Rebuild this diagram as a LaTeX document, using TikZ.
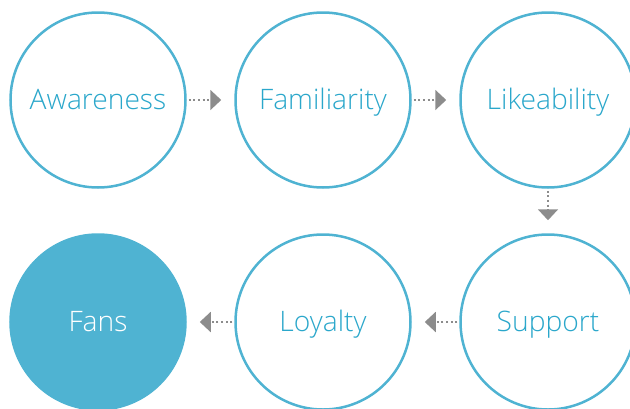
\documentclass[tikz,border=0pt]{standalone}
\usepackage{fontspec}
\IfFontExistsTF{Open Sans Light}{\setmainfont{Open Sans Light}}{\setmainfont{Open Sans}}
\usetikzlibrary{arrows.meta}
\definecolor{ringblue}{HTML}{4FB3D2}
\definecolor{textblue}{HTML}{2AA7CB}
\definecolor{arrowgray}{HTML}{8C8C8C}
\begin{document}
\begin{tikzpicture}[
    x=1pt, y=-1pt,
    every node/.style = {shape=circle, minimum size=175pt, inner sep=0pt,
        text height=24pt, text depth=6pt,
        font=\fontsize{28.2}{32}\selectfont},
    stage/.style = {draw=ringblue, line width=2.5pt, fill=white, text=textblue},
    fanstage/.style = {draw=ringblue, line width=2.5pt, fill=ringblue, text=white},
    flow/.style = {draw=arrowgray, line width=2pt, dash pattern=on 2pt off 2.6pt,
        shorten <=2pt, shorten >=13pt,
        -{Triangle[width=20pt, length=11pt, fill=arrowgray]}}
    ]
    \useasboundingbox (0,0) rectangle (630,408);
    % top row
    \node[stage] (aware) at (98,100) {Awareness};
    \node[stage] (famil) at (323,100) {Familiarity};
    \node[stage] (like) at (548,100) {Likeability};
    % bottom row
    \node[stage] (supp) at (548,322) {Support};
    \node[stage] (loyal) at (323,322) {Loyalty};
    \node[fanstage] (fans) at (98,322) {Fans};
    % arrows
    \draw[flow] (aware) -- (famil);
    \draw[flow] (famil) -- (like);
    \draw[flow] (like) -- (supp);
    \draw[flow] (supp) -- (loyal);
    \draw[flow] (loyal) -- (fans);
\end{tikzpicture}
\end{document}
